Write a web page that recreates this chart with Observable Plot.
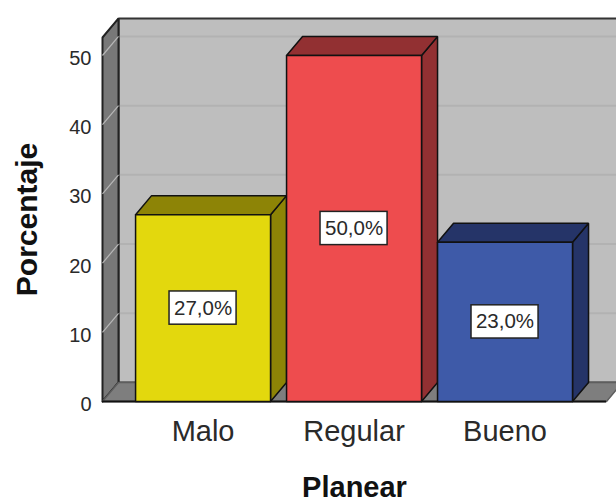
<!DOCTYPE html>
<html>
<head>
<meta charset="utf-8">
<script src="https://cdn.jsdelivr.net/npm/d3@7"></script>
<script src="https://cdn.jsdelivr.net/npm/@observablehq/plot@0.6"></script>
<style>
  html, body { margin: 0; padding: 0; background: #fff; }
  svg { display: block; }
</style>
</head>
<body>
<div id="chart"></div>
<script>
// Distribution of "Planear" responses, in percent
const categories = ["Malo", "Regular", "Bueno"];
const percentages = [27, 50, 23];
const frontColors = ["#E3D80D", "#EE4C4E", "#3E5AA8"];
const shadeColors = ["#8D8406", "#923032", "#253468"];
const yTicks = [0, 10, 20, 30, 40, 50];

// Pseudo-3D extrusion and box sizes, in scale units
const depthX = 0.106;
const depthY = 2.75;
const barHalf = 0.447;
const boxHalfX = 0.222;
const boxHalfY = 2.4;
const xMin = -0.666, xMax = 2.672, yTop = 52.6;

const offset = ([x, y]) => [x + depthX, y + depthY];

// A closed filled polygon drawn through the chart's scales
const face = (corners, fill, stroke = "#111", strokeWidth = 1.5) =>
  Plot.line([...corners, corners[0]], {
    x: (d) => d[0], y: (d) => d[1], fill, stroke, strokeWidth, strokeLinejoin: "miter"
  });

// Room: back wall, left wall, floor with a dark front edge
const frontBL = [xMin, 0], frontTL = [xMin, yTop], frontBR = [xMax, 0];
const room = [
  face([offset(frontBL), offset([xMax + 1, 0]), offset([xMax + 1, yTop]), offset(frontTL)], "#BEBEBE", "#333", 2),
  Plot.ruleY(yTicks.slice(1), {
    x1: xMin + depthX, x2: xMax + 1, y: (d) => d + depthY, stroke: "#B2B2B2", strokeWidth: 2
  }),
  face([frontBL, frontTL, offset(frontTL), offset(frontBL)], "#787878", "#222", 2),
  Plot.link(yTicks.slice(1), {
    x1: xMin, y1: (d) => d, x2: xMin + depthX, y2: (d) => d + depthY,
    stroke: "#B8B8B8", strokeWidth: 1.2
  }),
  face([frontBL, frontBR, offset(frontBR), [xMax + 1, depthY], offset(frontBL)], "#7E7E7E", "#5E5E5E", 1.5),
  Plot.ruleY([0], { x1: xMin, x2: xMax, stroke: "#111", strokeWidth: 2 })
];

// Each bar is a side face, a top face and a front face
const bars = categories.flatMap((c, i) => {
  const v = percentages[i], l = i - barHalf, r = i + barHalf;
  return [
    face([[r, 0], offset([r, 0]), offset([r, v]), [r, v]], shadeColors[i]),
    face([[l, v], [r, v], offset([r, v]), offset([l, v])], shadeColors[i]),
    face([[l, 0], [r, 0], [r, v], [l, v]], frontColors[i])
  ];
});

const data = categories.map((c, i) => ({ c, i, v: percentages[i] }));
const fontFamily = "'Liberation Sans', Arial, sans-serif";

const plot = Plot.plot({
  width: 616,
  height: 502,
  marginLeft: 102,
  marginRight: 10,
  marginTop: 37,
  marginBottom: 101,
  style: { fontFamily, background: "#fff" },
  x: { domain: [xMin, xMax], axis: null },
  y: { domain: [0, yTop], axis: null },
  marks: [
    ...room,
    ...bars,
    Plot.rect(data, {
      x1: (d) => d.i - boxHalfX, x2: (d) => d.i + boxHalfX,
      y1: (d) => d.v / 2 - boxHalfY, y2: (d) => d.v / 2 + boxHalfY,
      fill: "#fff", stroke: "#222", strokeWidth: 1.5
    }),
    Plot.text(data, {
      x: "i", y: (d) => d.v / 2,
      text: (d) => d.v.toFixed(1).replace(".", ",") + "%",
      fontSize: 20.5, fill: "#2a2a2a"
    }),
    Plot.axisY(yTicks, {
      anchor: "left", tickSize: 0, tickPadding: 11, fontSize: 20, dy: 3, fill: "#2a2a2a", label: null
    }),
    Plot.axisX(data.map((d) => d.i), {
      anchor: "bottom", tickSize: 0, tickPadding: 17, dy: 2, fontSize: 29, fill: "#2a2a2a", label: null,
      tickFormat: (i) => categories[i]
    }),
    Plot.text(["Planear"], {
      frameAnchor: "bottom", dy: 95.5, fontSize: 29, fontWeight: "bold", fill: "#111"
    }),
    Plot.text(["Porcentaje"], {
      frameAnchor: "left", dx: -75, rotate: -90, textAnchor: "middle", fontSize: 30, fontWeight: "bold", fill: "#111"
    })
  ]
});

document.getElementById("chart").append(plot);
</script>
</body>
</html>
